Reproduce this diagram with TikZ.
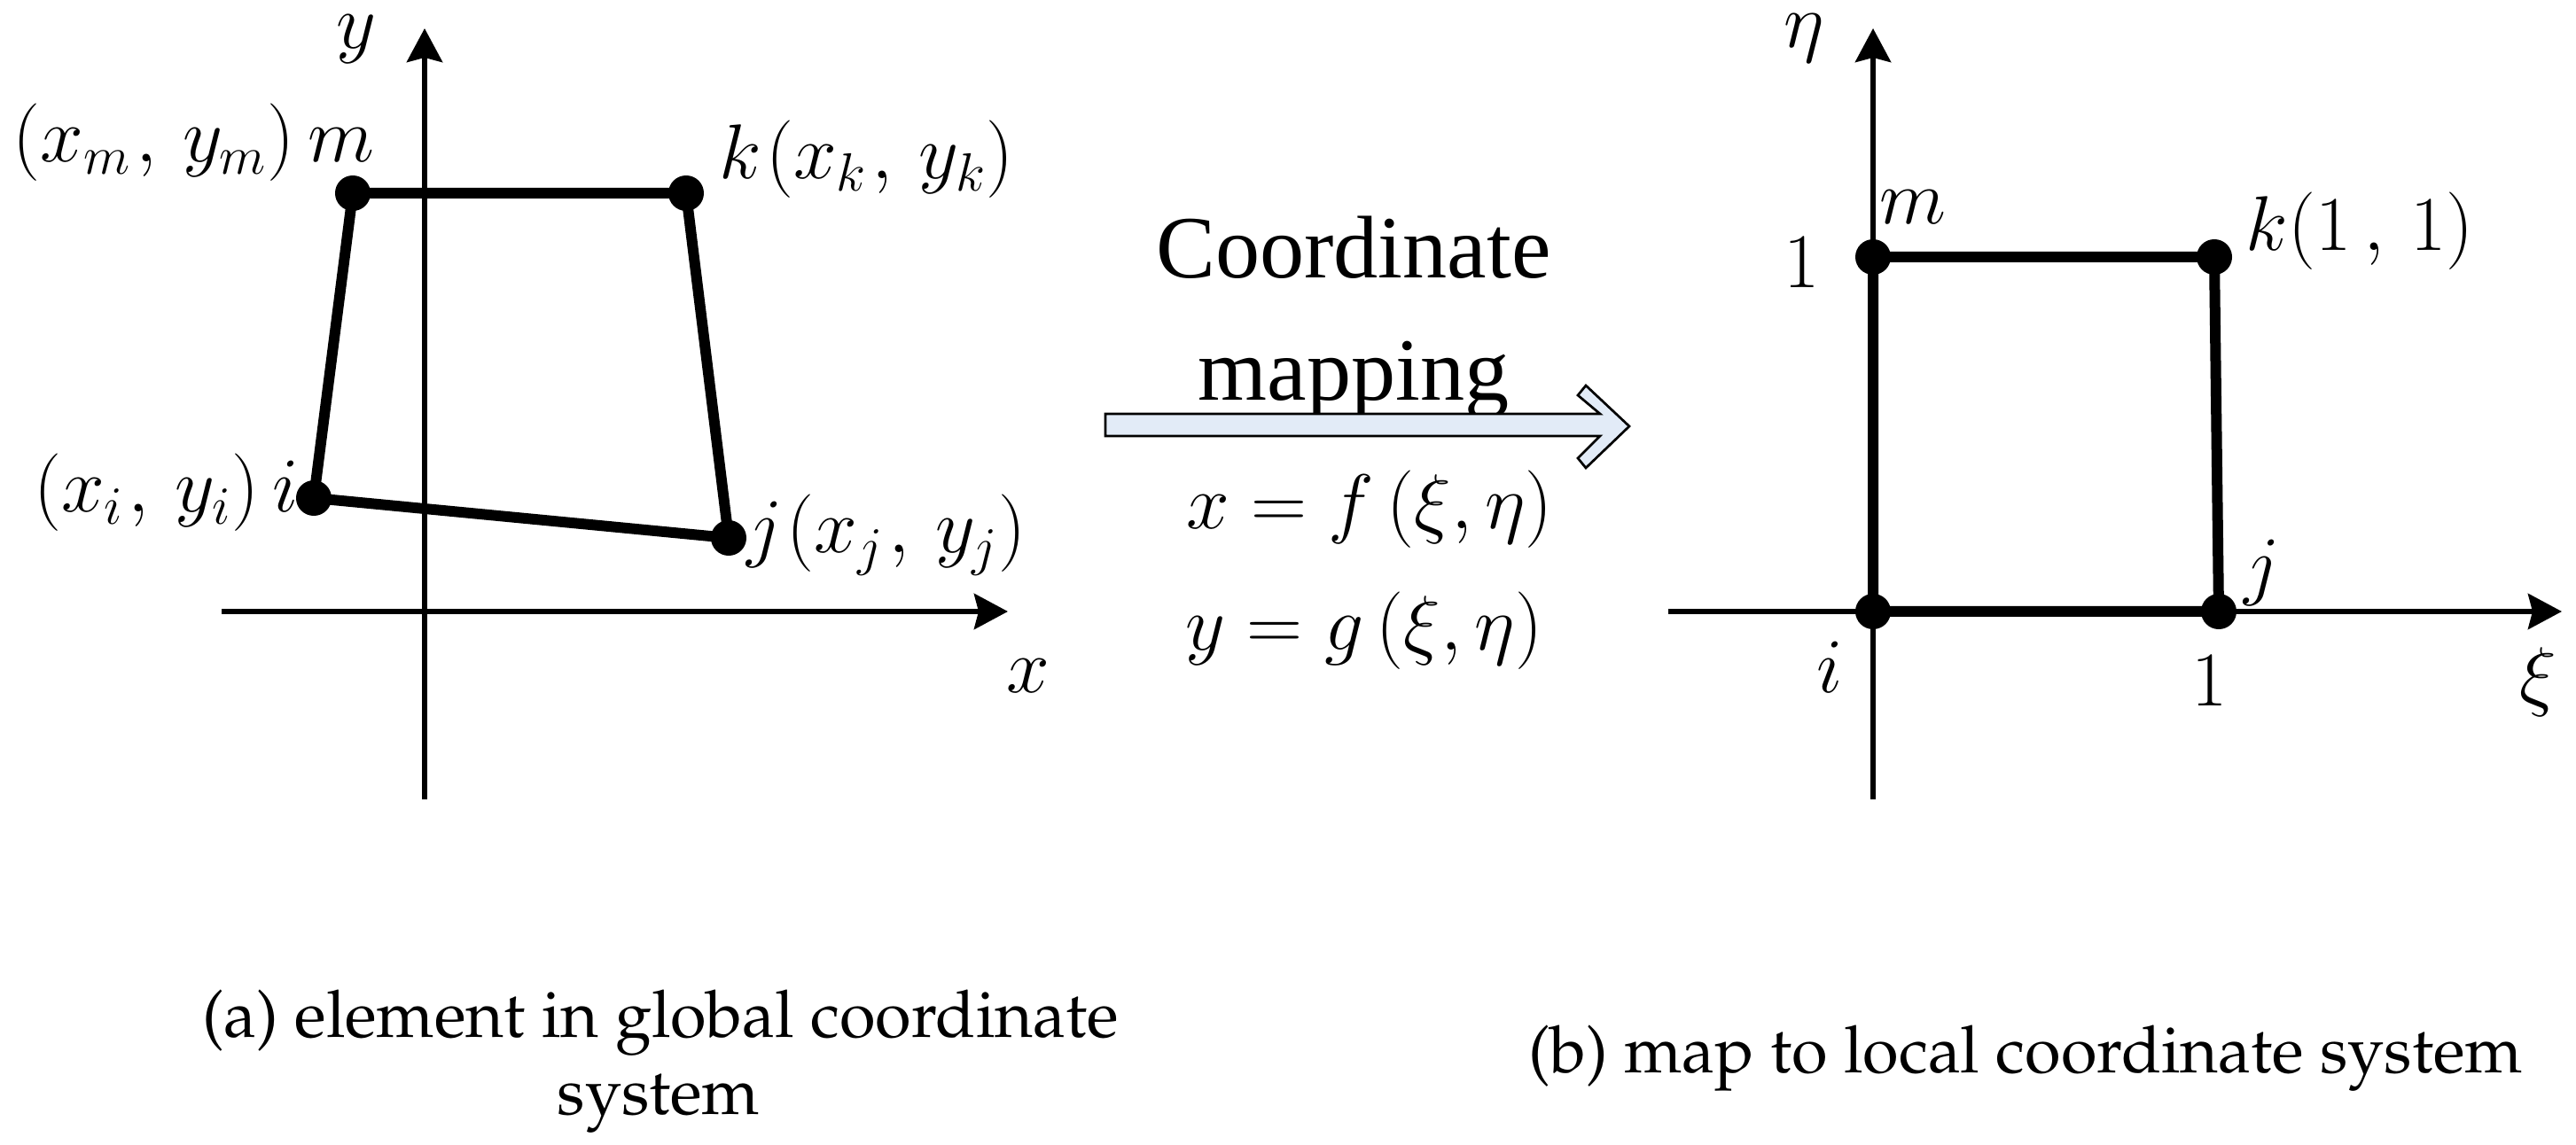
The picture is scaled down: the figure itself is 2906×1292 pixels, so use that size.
\documentclass[tikz,border=0pt]{standalone}
\usepackage[T1]{fontenc}
\usepackage{fontspec}
\usetikzlibrary{arrows.meta}
\newfontfamily\timesfont{Liberation Serif}
\newcommand\palfont{\fontencoding{T1}\fontfamily{ppl}\selectfont}
\definecolor{arrowfill}{RGB}{226,235,247}
\begin{document}
\begin{tikzpicture}[x=0.01cm,y=-0.01cm,
  axis/.style={line width=0.06cm, -{Stealth[length=0.38cm,width=0.40cm,inset=0.05cm]}},
  edgeline/.style={line width=0.12cm, line join=round},
  dot/.style={circle,fill=black,inner sep=0pt,minimum size=0.40cm},
  lab/.style={inner sep=0pt,font=\fontsize{26.5}{30}\selectfont},
  biglab/.style={inner sep=0pt,font=\fontsize{28}{32}\selectfont},
  tlab/.style={inner sep=0pt,font=\fontsize{28.5}{34}\timesfont},
  captext/.style={inner sep=0pt,font=\fontsize{21}{25}\palfont},
  bigarrow/.style={fill=arrowfill, draw=black, line width=0.027cm, line join=miter}
  ]
\useasboundingbox (0,0) rectangle (2906,1292);

% ---------- left: global coordinates ----------
\coordinate (gxs) at (250,690);
\coordinate (gxe) at (1137,690);
\coordinate (gys) at (479,902);
\coordinate (gye) at (479,32);
\draw[axis] (gxs) -- (gxe);
\draw[axis] (gys) -- (gye);

\node[dot] (gm) at (398,218) {};
\node[dot] (gk) at (774,218) {};
\node[dot] (gi) at (354,562) {};
\node[dot] (gj) at (822,607) {};
\draw[edgeline] (gm.center) -- (gk.center) -- (gj.center) -- (gi.center) -- cycle;

\node[lab,anchor=base east] (lgm) at (423,183) {$(x_m\mkern1mu,\, y_m)\,m$};
\node[lab,anchor=base west] (lgk) at (811,202) {$k\mkern1mu(x_k\mkern1mu,\, y_k)$};
\node[lab,anchor=base east] (lgi) at (337,578) {$(x_i\mkern1mu,\, y_i)\,i$};
\node[lab,anchor=base west] (lgj) at (842,624) {$j\mkern1mu(x_j\mkern1mu,\, y_j)$};
\node[lab,anchor=base] (lgy) at (402,55) {$y$};
\node[lab,anchor=base] (lgx) at (1160,782) {$x$};

% ---------- middle: mapping arrow ----------
\node[tlab,anchor=base] (c1) at (1527,314) {Coordinate};
\node[tlab,anchor=base] (c2) at (1527,452) {mapping};
\draw[bigarrow] (1247,467) -- (1805,467) -- (1780,446) -- (1789,435) -- (1838,481)
  -- (1789,528) -- (1780,517) -- (1805,492) -- (1247,492) -- cycle;
\node[lab,anchor=base] (e1) at (1545,597) {$x = f\,(\xi,\eta)$};
\node[lab,anchor=base] (e2) at (1539,734) {$y = g\,(\xi,\eta)$};

% ---------- right: local coordinates ----------
\coordinate (lxs) at (1882,690);
\coordinate (lxe) at (2890,690);
\coordinate (lys) at (2113,902);
\coordinate (lye) at (2113,32);
\draw[axis] (lxs) -- (lxe);
\draw[axis] (lys) -- (lye);

\node[dot] (lm) at (2113,290) {};
\node[dot] (lk) at (2498,290) {};
\node[dot] (li) at (2113,690) {};
\node[dot] (lj) at (2503,690) {};
\draw[edgeline] (lm.center) -- (lk.center) -- (lj.center) -- (li.center) -- cycle;

\node[lab,anchor=base] (llm) at (2158,253) {$m$};
\node[biglab,anchor=base west] (llk) at (2533,283) {$k(1\,,\,1)$};
\node[biglab,anchor=base] (ll1a) at (2033,325) {$1$};
\node[lab,anchor=base] (lli) at (2064,782) {$i$};
\node[biglab,anchor=base] (ll1b) at (2493,797) {$1$};
\node[lab,anchor=base] (llj) at (2552,667) {$j$};
\node[lab,anchor=base] (lleta) at (2035,54) {$\eta$};
\node[lab,anchor=base] (llxi) at (2863,792) {$\xi$};

% ---------- captions ----------
\node[captext,anchor=base] (capa1) at (745,1170) {(a) element in global coordinate};
\node[captext,anchor=base] (capa2) at (743,1257) {system};
\node[captext,anchor=base] (capb) at (2285,1210) {(b) map to local coordinate system};
\end{tikzpicture}
\end{document}
